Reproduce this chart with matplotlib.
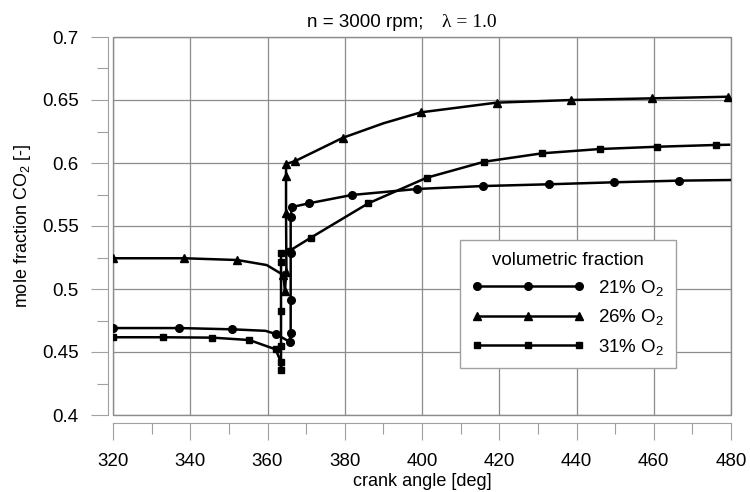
import matplotlib
matplotlib.use('Agg')
import matplotlib.pyplot as plt
import numpy as np
from matplotlib.ticker import MultipleLocator, FixedLocator, FixedFormatter

plt.rcParams['font.family'] = 'Liberation Sans'
plt.rcParams['mathtext.fontset'] = 'custom'
plt.rcParams['mathtext.rm'] = 'Liberation Sans'
plt.rcParams['mathtext.it'] = 'Liberation Sans:italic'

# 21% O2 (circles)
ca_21 = [320, 337.2, 350.9, 359.5, 362.1, 365.7, 366.0, 366.0, 366.0, 366.0, 366.3,
         370.7, 381.8, 398.8, 415.7, 432.8, 449.8, 466.6, 480]
co2_21 = [0.469, 0.469, 0.468, 0.4668, 0.4643, 0.4582, 0.4652, 0.4915, 0.5283, 0.5574, 0.5650,
          0.568, 0.5746, 0.5794, 0.5817, 0.5831, 0.5847, 0.586, 0.5865]
mark_21 = [0, 1, 2, 4, 5, 6, 7, 8, 9, 10, 11, 12, 13, 14, 15, 16, 17]

# 26% O2 (triangles)
ca_26 = [320, 338.4, 352.2, 359.8, 364.1, 364.5, 364.9, 364.8, 364.8, 364.8,
         367.2, 379.5, 390, 399.7, 419.3, 438.7, 459.5, 479.3]
co2_26 = [0.5244, 0.5244, 0.523, 0.519, 0.5111, 0.4985, 0.5137, 0.560, 0.5897, 0.5992,
          0.6016, 0.620, 0.6315, 0.6402, 0.6479, 0.650, 0.6513, 0.6526]
mark_26 = [0, 1, 2, 4, 5, 6, 7, 8, 9, 10, 11, 13, 14, 15, 16, 17]

# 31% O2 (squares)
ca_31 = [320, 333.0, 345.7, 355.3, 362.1, 363.5, 363.5, 363.5, 363.5, 363.5, 363.5,
         365.8, 371.2, 386.1, 401.2, 416.1, 431.1, 446.1, 460.9, 476.0, 479.5]
co2_31 = [0.4617, 0.4617, 0.4614, 0.4595, 0.4521, 0.4418, 0.4357, 0.4548, 0.4826, 0.5217, 0.5283,
          0.5305, 0.5407, 0.568, 0.5883, 0.601, 0.6077, 0.6111, 0.6129, 0.6143, 0.6145]
mark_31 = list(range(20))

labels = ['21% O$_2$', '26% O$_2$', '31% O$_2$']
yticks = [0.4, 0.45, 0.5, 0.55, 0.6, 0.65, 0.7]
ytick_labels = ['0.4', '0.45', '0.5', '0.55', '0.6', '0.65', '0.7']

W, H = 750, 492
fig = plt.figure(figsize=(W / 100, H / 100), dpi=100)
ax = fig.add_axes([113 / W, 1 - 415 / H, 618 / W, 378 / H])

grey = '#a0a0a0'
ax.plot(ca_21, co2_21, color='black', lw=1.8, marker='o', ms=5.5, markevery=mark_21,
        label=labels[0], zorder=3)
ax.plot(ca_26, co2_26, color='black', lw=1.8, marker='^', ms=6, markevery=mark_26,
        label=labels[1], zorder=3)
ax.plot(ca_31, co2_31, color='black', lw=1.8, marker='s', ms=4.2, markevery=mark_31,
        label=labels[2], zorder=3)

ax.set_xlim(320, 480)
ax.set_ylim(0.4, 0.7)
ax.xaxis.set_major_locator(MultipleLocator(20))
ax.xaxis.set_minor_locator(MultipleLocator(10))
ax.yaxis.set_major_locator(FixedLocator(yticks))
ax.yaxis.set_major_formatter(FixedFormatter(ytick_labels))
ax.yaxis.set_minor_locator(MultipleLocator(0.025))

ax.set_axisbelow(True)
ax.grid(True, which='major', color='#8c8c8c', lw=0.9)
ax.tick_params(which='both', direction='out', color=grey, width=0.8, labelsize=13.5)
ax.tick_params(which='major', length=12)
ax.tick_params(which='minor', length=8)
ax.tick_params(axis='x', pad=10)
ax.tick_params(axis='y', pad=9)

for side in ['top', 'right']:
    ax.spines[side].set_visible(False)
ax.spines['left'].set_position(('outward', 3.6))
ax.spines['bottom'].set_position(('outward', 5.5))
for side in ['left', 'bottom']:
    ax.spines[side].set_color(grey)
    ax.spines[side].set_linewidth(0.8)
ax.patch.set_edgecolor('#8c8c8c')
ax.patch.set_linewidth(1.0)

fig.text(307 / W, 1 - 27 / H, 'n = 3000 rpm;', fontsize=13.5, va='baseline', ha='left')
fig.text(442 / W, 1 - 27 / H, 'λ = 1.0', fontsize=14, va='baseline', ha='left',
         family='Liberation Serif')
fig.text(422 / W, 1 - 482 / H, 'crank angle [deg]', fontsize=13, ha='center', va='center')
fig.text(23 / W, 1 - 226 / H, 'mole fraction CO$_2$ [-]', fontsize=13, ha='center',
         va='center', rotation=90)

leg = ax.legend(loc='upper left', bbox_to_anchor=((460 - 113) / 618, (415 - 240) / 378),
                borderaxespad=0, numpoints=3, handlelength=6.0, handletextpad=0.75,
                labelspacing=0.5, fontsize=13.5, title='volumetric fraction',
                title_fontsize=13.5, fancybox=False, framealpha=1, edgecolor='#a0a0a0',
                borderpad=0.62)
leg.get_frame().set_linewidth(1.0)

fig.savefig('out.png', dpi=100)
